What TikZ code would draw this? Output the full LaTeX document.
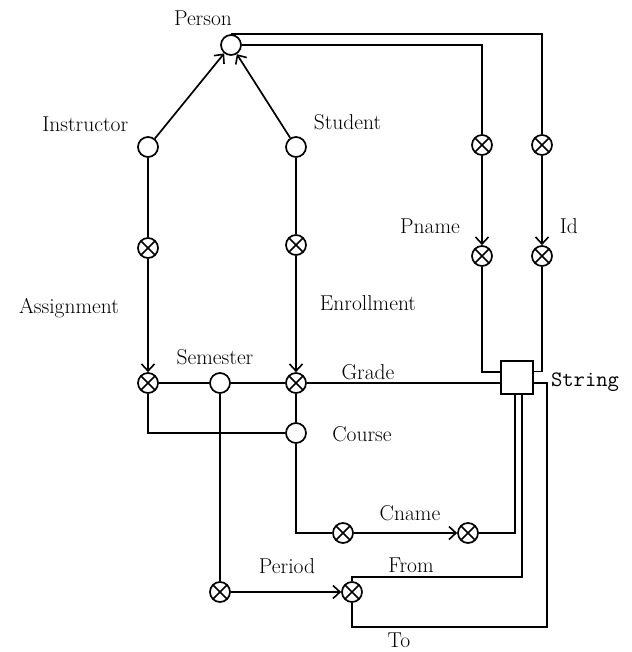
\documentclass[tikz,border=0pt]{standalone}
\usetikzlibrary{arrows.meta,calc}
\begin{document}
\begin{tikzpicture}[x=1pt,y=-1pt,line width=1.7pt,
  obj/.style={circle,draw,minimum size=20pt,inner sep=0pt},
  xobj/.style={obj,path picture={\draw[line width=1.5pt] (path picture bounding box.center) +(45:10pt) -- +(225:10pt) (path picture bounding box.center) +(135:10pt) -- +(315:10pt);}},
  lab/.style={font=\fontsize{21.5}{24}\selectfont,inner sep=0pt},
  ttlab/.style={font=\fontsize{22}{24}\selectfont\ttfamily,inner sep=0pt},
  arr/.style={-{Straight Barb[length=7pt,width=13pt,line width=1.6pt]}},
  strbox/.style={draw,minimum width=32pt,minimum height=33pt,inner sep=0pt}]
\useasboundingbox (0,0) rectangle (631,652);
% objects
\node[obj] (person) at (231,45) {};
\node[obj] (instr) at (148,147) {};
\node[obj] (stud) at (296,147) {};
\node[xobj] (as1) at (148,248) {};
\node[xobj] (en1) at (296,245) {};
\node[xobj] (as2) at (148,383) {};
\node[obj] (sem) at (220,383) {};
\node[xobj] (en2) at (296,383) {};
\node[obj] (course) at (296,433) {};
\node[xobj] (cn1) at (343,533) {};
\node[xobj] (cn2) at (468,533) {};
\node[xobj] (pe) at (220,592) {};
\node[xobj] (ft) at (352,592) {};
\node[xobj] (pn1) at (482,145) {};
\node[xobj] (pn2) at (482,256) {};
\node[xobj] (id1) at (542,145) {};
\node[xobj] (id2) at (542,256) {};
\node[strbox] (box) at (517,377.5) {};
\coordinate (toc) at (547,627);
\coordinate (fromc) at (522,577);
\coordinate (cnc) at (515,533);
% labels
\node[lab] (lperson) at (203,18) {Person};
\node[lab,anchor=east] (linstr) at (129,124) {Instructor};
\node[lab,anchor=west] (lstud) at (313,122) {Student};
\node[lab] (lassign) at (69,308) {Assignment};
\node[lab] (lenroll) at (368,303) {Enrollment};
\node[lab] (lsem) at (215,357) {Semester};
\node[lab] (lgrade) at (368,372) {Grade};
\node[lab] (lcourse) at (362,434) {Course};
\node[lab] (lcname) at (410,513) {Cname};
\node[lab] (lperiod) at (287,566) {Period};
\node[lab] (lfrom) at (411,565) {From};
\node[lab] (lto) at (399,640) {To};
\node[lab] (lpname) at (430,226) {Pname};
\node[lab,anchor=west] (lid) at (559,226) {Id};
\node[ttlab] (lstring) at (585,382) {String};
% connectors
\draw[arr] (instr) -- (person);
\draw[arr] (stud) -- (person);
\draw (person.north) -| (id1);
\draw (person.east) -| (pn1);
\draw[arr] (pn1) -- (pn2);
\draw[arr] (id1) -- (id2);
\draw (pn2) |- ([yshift=5.5pt]box.west);
\draw (id2) |- ([yshift=6pt]box.east);
\draw (instr) -- (as1);
\draw[arr] (as1) -- (as2);
\draw (stud) -- (en1);
\draw[arr] (en1) -- (en2);
\draw (as2) -- (sem);
\draw (sem) -- (en2);
\draw (en2) -- (en2 -| box.west);
\draw (as2) |- (course);
\draw (en2) -- (course);
\draw (course) |- (cn1);
\draw[arr] (cn1) -- (cn2);
\draw (cn2) -- (cnc) -- (cnc |- box.south);
\draw (sem) -- (pe);
\draw[arr] (pe) -- (ft);
\draw (ft) |- (fromc) -- (fromc |- box.south);
\draw ([yshift=-5.5pt]box.east) -| (toc) -| (ft);
\end{tikzpicture}
\end{document}
